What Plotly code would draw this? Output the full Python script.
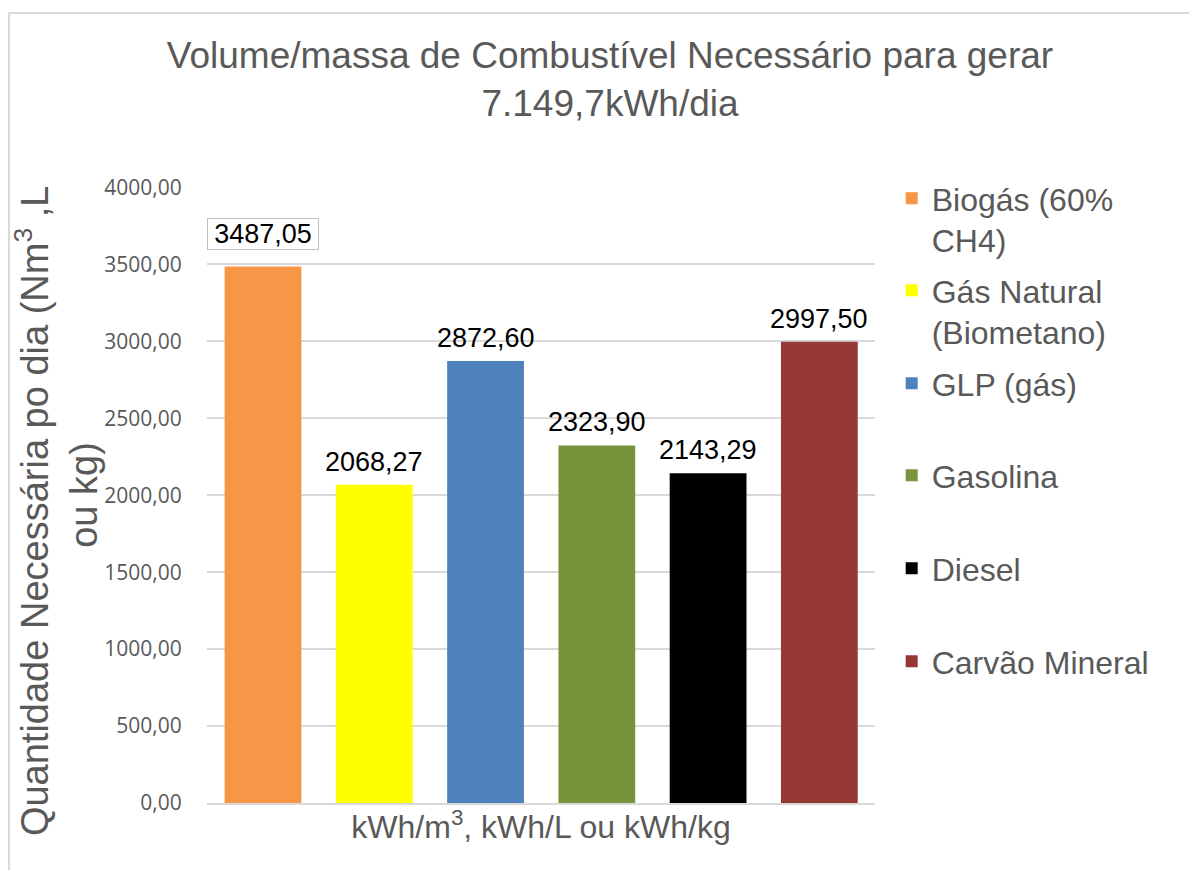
import plotly.graph_objects as go

categories = ["Biogás (60%<br>CH4)", "Gás Natural<br>(Biometano)", "GLP (gás)", "Gasolina", "Diesel", "Carvão Mineral"]
values = [3487.05, 2068.27, 2872.60, 2323.90, 2143.29, 2997.50]
colors = ["#F79646", "#FFFF00", "#4F81BD", "#77933C", "#000000", "#953735"]
y_ticks = [0, 500, 1000, 1500, 2000, 2500, 3000, 3500, 4000]
legend_line_centers = [201, 293, 386, 478, 571, 664]  # page px of each legend entry's first line

TXT = "#595959"
GRID = "#D9D9D9"

fig = go.Figure()
legend_layout = {}
for i, (c, v, col) in enumerate(zip(categories, values, colors)):
    lname = "legend" if i == 0 else f"legend{i + 1}"
    fig.add_trace(go.Bar(
        x=[c], y=[v], name=c, marker=dict(color=col, line=dict(width=0)),
        width=0.69, legend=lname, showlegend=True,
    ))
    legend_layout[lname] = dict(
        x=1.025, xanchor="left",
        y=(803 - (legend_line_centers[i] - 30)) / 616, yanchor="top",
        font=dict(family="Liberation Sans, Arial", size=32, color=TXT),
        valign="top", bgcolor="rgba(0,0,0,0)", maxheight=800,
    )
    label = f"{v:.2f}".replace(".", ",")
    boxed = i == 0
    fig.add_annotation(
        x=c, y=v, xref="x", yref="y", text=label, showarrow=False,
        yanchor="bottom", yshift=16 if boxed else 8,
        font=dict(family="Liberation Sans, Arial", size=27, color="#000000"),
        bordercolor="#BFBFBF" if boxed else None, borderwidth=1 if boxed else 0,
        borderpad=0, width=110 if boxed else None, height=30 if boxed else None,
        bgcolor="white" if boxed else None,
    )

# outer chart frame
fig.add_shape(type="rect", xref="paper", yref="paper",
              x0=(1 - 199) / 668, x1=1.7, y0=-0.3, y1=(795 - 5) / 616,
              line=dict(color=GRID, width=2), fillcolor="rgba(0,0,0,0)", layer="below")

fig.update_layout(
    width=1189, height=862,
    margin=dict(l=199, r=322, t=179, b=67),
    paper_bgcolor="white", plot_bgcolor="white",
    separators=",.",
    barmode="overlay",
    title=dict(
        text="Volume/massa de Combustível Necessário para gerar<br>7.149,7kWh/dia",
        x=602 / 1189, xanchor="center", y=1 - 60 / 862, yanchor="top",
        font=dict(family="Liberation Sans, Arial", size=37, color=TXT),
    ),
    showlegend=True,
    **legend_layout,
)
fig.update_xaxes(
    type="category", showticklabels=False, showgrid=False,
    showline=True, linecolor=GRID, linewidth=2, ticks="",
    title=dict(text="kWh/m<sup>3</sup>, kWh/L ou kWh/kg", standoff=12,
               font=dict(family="Liberation Sans, Arial", size=32, color=TXT)),
)
fig.update_yaxes(
    range=[0, 4003], tickvals=y_ticks, tickformat=".2f",
    showgrid=True, gridcolor=GRID, gridwidth=2, zeroline=False, showline=False,
    ticks="outside", ticklen=20, tickcolor="rgba(0,0,0,0)",
    tickfont=dict(family="Open Sans", size=21, color=TXT),
    title=dict(text="Quantidade Necessária po dia (Nm<sup>3</sup> ,L\u00a0\u00a0\u00a0<br>ou kg)", standoff=0,
               font=dict(family="Liberation Sans, Arial", size=38, color=TXT)),
)

fig.write_html("out.html")
